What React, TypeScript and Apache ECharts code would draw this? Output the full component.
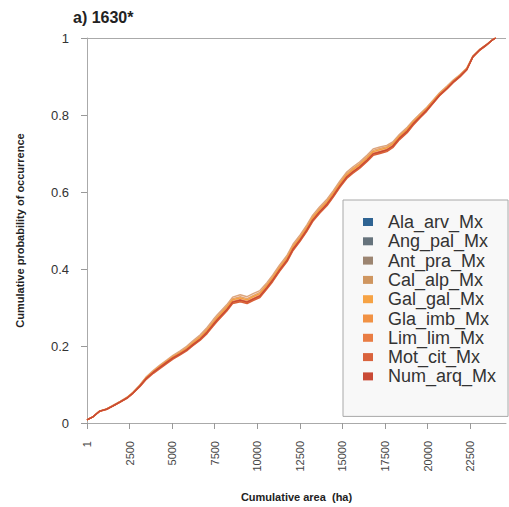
import React, { useEffect, useRef } from "react";
import * as echarts from "echarts";

const title = "a) 1630*";
const xName = "Cumulative area  (ha)";
const yName = "Cumulative probability of occurrence";
const xTicks = [1, 2500, 5000, 7500, 10000, 12500, 15000, 17500, 20000, 22500];

const area = [1, 350, 750, 1150, 1500, 1950, 2350, 2700, 3100, 3500, 3900, 4300, 4700, 5050, 5450, 5850, 6200, 6650, 7050, 7400, 7650, 8200, 8550, 9000, 9400, 9750, 10150, 10550, 10900, 11300, 11750, 12100, 12500, 12900, 13250, 13650, 14100, 14450, 14850, 15250, 15600, 16000, 16450, 16800, 17200, 17600, 17950, 18350, 18800, 19150, 19550, 19950, 20300, 20700, 21150, 21500, 21900, 22300, 22650, 23050, 23450, 23800, 24000];

const Ala_arv_Mx = [0.008,0.016,0.031,0.036,0.044,0.055,0.065,0.078,0.097,0.118,0.133,0.147,0.160,0.171,0.181,0.193,0.206,0.221,0.240,0.259,0.272,0.298,0.318,0.323,0.318,0.326,0.334,0.355,0.375,0.401,0.427,0.456,0.479,0.505,0.531,0.552,0.573,0.594,0.620,0.643,0.656,0.669,0.687,0.703,0.708,0.713,0.723,0.744,0.762,0.781,0.798,0.816,0.834,0.854,0.872,0.888,0.902,0.920,0.951,0.969,0.982,0.995,1.0];
const Ang_pal_Mx = [0.008,0.016,0.031,0.036,0.044,0.055,0.065,0.078,0.096,0.118,0.133,0.146,0.159,0.170,0.180,0.192,0.205,0.220,0.238,0.257,0.270,0.296,0.316,0.321,0.316,0.324,0.332,0.353,0.373,0.399,0.425,0.454,0.477,0.503,0.529,0.550,0.571,0.592,0.618,0.641,0.654,0.667,0.685,0.701,0.706,0.711,0.721,0.742,0.760,0.779,0.797,0.815,0.833,0.853,0.871,0.887,0.902,0.920,0.951,0.969,0.982,0.995,1.0];
const Ant_pra_Mx = [0.008,0.016,0.031,0.037,0.045,0.056,0.067,0.080,0.099,0.121,0.137,0.151,0.164,0.176,0.187,0.199,0.213,0.229,0.248,0.268,0.281,0.307,0.327,0.333,0.328,0.336,0.344,0.364,0.384,0.410,0.436,0.465,0.488,0.514,0.540,0.561,0.582,0.603,0.629,0.652,0.665,0.678,0.696,0.712,0.717,0.721,0.730,0.750,0.768,0.786,0.803,0.820,0.838,0.858,0.876,0.891,0.905,0.922,0.953,0.970,0.983,0.995,1.0];
const Cal_alp_Mx = [0.008,0.016,0.031,0.036,0.045,0.056,0.066,0.079,0.098,0.120,0.135,0.149,0.162,0.174,0.184,0.196,0.210,0.225,0.244,0.263,0.277,0.303,0.323,0.328,0.323,0.331,0.339,0.360,0.380,0.406,0.432,0.461,0.484,0.510,0.536,0.557,0.578,0.599,0.625,0.648,0.661,0.674,0.692,0.708,0.713,0.718,0.727,0.747,0.765,0.783,0.801,0.818,0.836,0.856,0.874,0.889,0.904,0.921,0.952,0.970,0.983,0.995,1.0];
const Gal_gal_Mx = [0.008,0.016,0.031,0.036,0.044,0.055,0.066,0.079,0.097,0.119,0.134,0.148,0.161,0.172,0.182,0.194,0.207,0.223,0.241,0.260,0.274,0.300,0.320,0.325,0.320,0.328,0.336,0.357,0.377,0.403,0.429,0.458,0.481,0.507,0.533,0.554,0.575,0.596,0.622,0.645,0.658,0.671,0.689,0.705,0.710,0.715,0.725,0.745,0.763,0.782,0.799,0.817,0.835,0.855,0.873,0.888,0.903,0.921,0.952,0.969,0.982,0.995,1.0];
const Gla_imb_Mx = [0.008,0.016,0.031,0.036,0.044,0.055,0.065,0.078,0.095,0.116,0.131,0.144,0.157,0.168,0.178,0.189,0.202,0.217,0.234,0.253,0.266,0.292,0.312,0.317,0.312,0.320,0.328,0.349,0.369,0.395,0.421,0.450,0.473,0.499,0.525,0.546,0.567,0.588,0.614,0.637,0.650,0.663,0.681,0.697,0.702,0.707,0.717,0.738,0.756,0.775,0.794,0.812,0.830,0.851,0.869,0.885,0.900,0.918,0.950,0.968,0.982,0.995,1.0];
const Lim_lim_Mx = [0.008,0.016,0.031,0.036,0.044,0.055,0.065,0.078,0.096,0.117,0.132,0.146,0.159,0.170,0.180,0.191,0.204,0.219,0.237,0.256,0.269,0.295,0.315,0.320,0.315,0.323,0.331,0.352,0.372,0.398,0.424,0.453,0.476,0.502,0.528,0.549,0.570,0.591,0.617,0.640,0.653,0.666,0.684,0.700,0.705,0.710,0.720,0.741,0.759,0.778,0.796,0.814,0.832,0.853,0.871,0.887,0.901,0.919,0.951,0.969,0.982,0.995,1.0];
const Mot_cit_Mx = [0.008,0.016,0.030,0.035,0.043,0.054,0.064,0.077,0.094,0.114,0.129,0.142,0.155,0.166,0.176,0.187,0.200,0.215,0.232,0.251,0.264,0.290,0.310,0.315,0.310,0.318,0.326,0.347,0.367,0.393,0.419,0.448,0.471,0.497,0.523,0.544,0.565,0.586,0.612,0.635,0.648,0.661,0.679,0.695,0.700,0.705,0.715,0.736,0.754,0.773,0.792,0.810,0.829,0.850,0.868,0.884,0.899,0.917,0.950,0.968,0.981,0.995,1.0];
const Num_arq_Mx = [0.008,0.016,0.031,0.036,0.044,0.055,0.065,0.078,0.096,0.117,0.132,0.145,0.158,0.169,0.179,0.190,0.203,0.218,0.236,0.255,0.268,0.294,0.314,0.319,0.314,0.322,0.330,0.351,0.371,0.397,0.423,0.452,0.475,0.501,0.527,0.548,0.569,0.590,0.616,0.639,0.652,0.665,0.683,0.699,0.704,0.709,0.719,0.740,0.758,0.777,0.795,0.813,0.831,0.852,0.870,0.886,0.901,0.919,0.951,0.969,0.982,0.995,1.0];

const seriesNames = ["Ala_arv_Mx", "Ang_pal_Mx", "Ant_pra_Mx", "Cal_alp_Mx", "Gal_gal_Mx", "Gla_imb_Mx", "Lim_lim_Mx", "Mot_cit_Mx", "Num_arq_Mx"];
const seriesValues = [Ala_arv_Mx, Ang_pal_Mx, Ant_pra_Mx, Cal_alp_Mx, Gal_gal_Mx, Gla_imb_Mx, Lim_lim_Mx, Mot_cit_Mx, Num_arq_Mx];
const legendColors = ["#2f6493", "#66737c", "#9c8571", "#cf9660", "#f6a345", "#f19245", "#e97d44", "#d9633d", "#c94a36"];
const lineColors = ["#eab893", "#f2c7a6", "#dca57e", "#e3a474", "#f5a040", "#f09040", "#e87a40", "#d86038", "#c84a35"];

const FONT = "'Liberation Sans', Arial, sans-serif";

export default function App() {
  const ref = useRef<HTMLDivElement>(null);
  useEffect(() => {
    if (!ref.current) return;
    const chart = echarts.init(ref.current, null, { renderer: "svg" });
    const series: any[] = seriesNames.map((name, i) => ({
      name,
      type: "line",
      showSymbol: false,
      symbol: "none",
      data: area.map((x, k) => [x, seriesValues[i][k]]),
      itemStyle: { color: legendColors[i] },
      lineStyle: { color: lineColors[i], width: 1.4 },
      z: 2 + i,
    }));
    series[0].markLine = {
      silent: true,
      symbol: "none",
      label: { show: false },
      lineStyle: { color: "#aaaaaa", type: "solid", width: 1 },
      data: [{ yAxis: 1 }],
      z: 1,
    };
    chart.setOption({
      animation: false,
      backgroundColor: "#ffffff",
      textStyle: { fontFamily: FONT },
      title: {
        text: title,
        left: 68,
        top: 4,
        textStyle: { fontFamily: FONT, fontSize: 16, fontWeight: "bold", color: "#222" },
      },
      grid: { left: 87, top: 38, right: 3, bottom: 84 },
      legend: {
        data: seriesNames,
        orient: "vertical",
        left: 343,
        top: 200,
        backgroundColor: "#f8f8f8",
        borderColor: "#a8a8a8",
        borderWidth: 1,
        padding: [13, 12, 31, 20],
        icon: "rect",
        itemWidth: 10,
        itemHeight: 8,
        itemGap: 1.3,
        textStyle: { fontFamily: FONT, fontSize: 18, color: "#333", padding: [0, 0, 0, 10] },
      },
      xAxis: {
        type: "value",
        min: 1,
        max: 24600,
        name: xName,
        nameLocation: "middle",
        nameGap: 68,
        nameTextStyle: { fontFamily: FONT, fontSize: 11, fontWeight: "bold", color: "#222" },
        axisLine: { show: true, lineStyle: { color: "#aaaaaa", width: 1 } },
        axisTick: { show: true, length: 6, lineStyle: { color: "#999999" }, customValues: xTicks },
        axisLabel: {
          customValues: xTicks,
          rotate: 90,
          margin: 18,
          fontSize: 11,
          color: "#444",
          fontFamily: FONT,
          formatter: (v: number) => String(v),
        },
        splitLine: { show: false },
      },
      yAxis: {
        type: "value",
        min: 0,
        max: 1,
        interval: 0.2,
        name: yName,
        nameLocation: "middle",
        nameGap: 62,
        nameTextStyle: { fontFamily: FONT, fontSize: 11, fontWeight: "bold", color: "#222" },
        axisLine: { show: true, lineStyle: { color: "#aaaaaa", width: 1 } },
        axisTick: { show: true, length: 6, lineStyle: { color: "#999999" } },
        axisLabel: { margin: 18, fontSize: 13, color: "#333", fontFamily: FONT },
        splitLine: { show: false },
      },
      series,
    });
    return () => chart.dispose();
  }, []);
  return <div ref={ref} style={{ width: 509, height: 507, position: "absolute", left: 0, top: 0 }} />;
}
